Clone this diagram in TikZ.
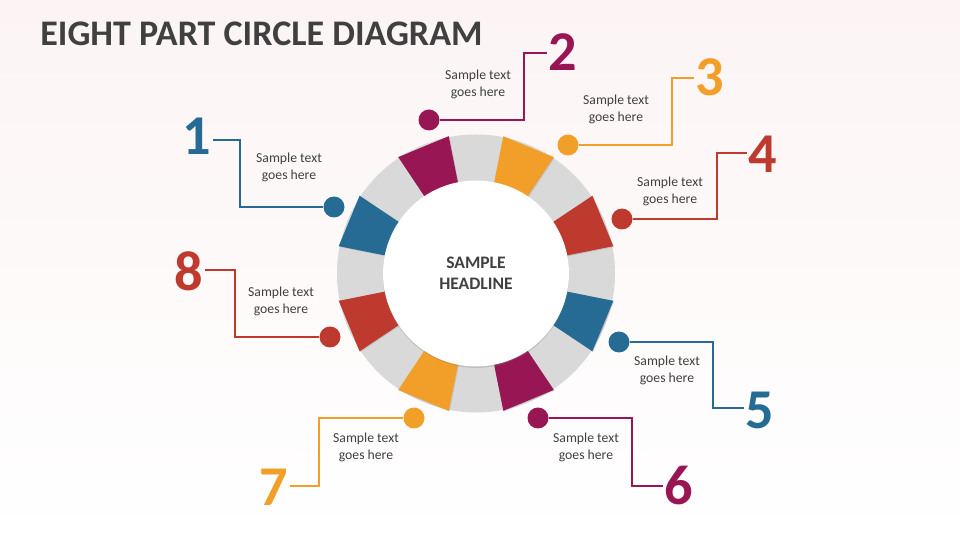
\documentclass[tikz,border=0pt]{standalone}
\usepackage{fontspec}
\setmainfont{Carlito}
\usetikzlibrary{shadows}

\definecolor{cblue}{HTML}{256B94}
\definecolor{cmaroon}{HTML}{981653}
\definecolor{corange}{HTML}{F29F2A}
\definecolor{cred}{HTML}{BE3A2F}
\definecolor{cgray}{HTML}{D9D9D9}
\definecolor{ctext}{HTML}{404040}
\definecolor{cbg}{HTML}{FCF4F4}

\tikzset{
  bead/.style={circle,fill=#1,minimum size=0.42cm,inner sep=0pt},
  num/.style={text=#1,font=\fontsize{32}{32}\selectfont\bfseries,inner sep=1pt},
  lead/.style={draw=#1,line width=1.1pt},
  info/.style={text=ctext,font=\fontsize{7.8}{9.6}\selectfont,align=center},
  hub/.style={circle,fill=white,minimum size=3.72cm,inner sep=0pt,
    text=ctext,font=\fontsize{10}{12}\selectfont\bfseries,align=center,
    drop shadow={opacity=0.3,shadow xshift=0pt,shadow yshift=-0.8pt}},
  tile/.style={fill=#1,drop shadow={opacity=0.25,shadow xshift=0.5pt,shadow yshift=-0.5pt}}
}

\begin{document}
\begin{tikzpicture}[x=0.02cm,y=-0.02cm]
\useasboundingbox (0,0) rectangle (960,540);
\shade[top color=cbg,bottom color=white] (0,0) rectangle (960,540);

% title
\node[anchor=base west,inner sep=0pt,text=ctext,font=\fontsize{20.5}{24}\selectfont\bfseries]
  (title) at (40,46) {EIGHT PART CIRCLE DIAGRAM};

% ring
\fill[cgray] (476,273.5) circle (139);
\begin{scope}[shift={(476,273.5)}]
\foreach \a/\c in {-157.5/cblue,-112.5/cmaroon,-67.5/corange,-22.5/cred,
                   22.5/cblue,67.5/cmaroon,112.5/corange,157.5/cred}
  \fill[tile=\c] (\a-11.25:140) -- (\a+11.25:140) -- (\a+11.25:92) -- (\a-11.25:92) -- cycle;
\end{scope}
\node[hub] (hub) at (476,273.5) {SAMPLE\\HEADLINE};

% callouts
\node[bead=cblue] (d1) at (334,207) {};
\coordinate (k1) at (240,140);
\node[num=cblue] (n1) at (197,136) {1};
\node[info] (t1) at (289,167) {Sample text\\goes here};

\node[bead=cmaroon] (d2) at (429,120) {};
\coordinate (k2) at (524,53);
\node[num=cmaroon] (n2) at (563,52) {2};
\node[info] (t2) at (478,84) {Sample text\\goes here};

\node[bead=corange] (d3) at (568,145) {};
\coordinate (k3) at (672,78);
\node[num=corange] (n3) at (710,77) {3};
\node[info] (t3) at (616,109) {Sample text\\goes here};

\node[bead=cred] (d4) at (622,219) {};
\coordinate (k4) at (717,153);
\node[num=cred] (n4) at (763,154) {4};
\node[info] (t4) at (670,191) {Sample text\\goes here};

\node[bead=cblue] (d5) at (619,342) {};
\coordinate (k5) at (713,408);
\node[num=cblue] (n5) at (760,410) {5};
\node[info] (t5) at (667,370) {Sample text\\goes here};

\node[bead=cmaroon] (d6) at (538,418) {};
\coordinate (k6) at (632,486);
\node[num=cmaroon] (n6) at (679,486) {6};
\node[info] (t6) at (586,447) {Sample text\\goes here};

\node[bead=corange] (d7) at (414,418) {};
\coordinate (k7) at (319,486);
\node[num=corange] (n7) at (274,487) {7};
\node[info] (t7) at (366,447) {Sample text\\goes here};

\node[bead=cred] (d8) at (330,337) {};
\coordinate (k8) at (235,270);
\node[num=cred] (n8) at (189,271) {8};
\node[info] (t8) at (281,301) {Sample text\\goes here};

\draw[lead=cblue] (d1) -| (k1) -- (k1 -| n1.east);
\draw[lead=cmaroon] (d2) -| (k2) -- (k2 -| n2.west);
\draw[lead=corange] (d3) -| (k3) -- (k3 -| n3.west);
\draw[lead=cred] (d4) -| (k4) -- (k4 -| n4.west);
\draw[lead=cblue] (d5) -| (k5) -- (k5 -| n5.west);
\draw[lead=cmaroon] (d6) -| (k6) -- (k6 -| n6.west);
\draw[lead=corange] (d7) -| (k7) -- (k7 -| n7.east);
\draw[lead=cred] (d8) -| (k8) -- (k8 -| n8.east);
\end{tikzpicture}
\end{document}
